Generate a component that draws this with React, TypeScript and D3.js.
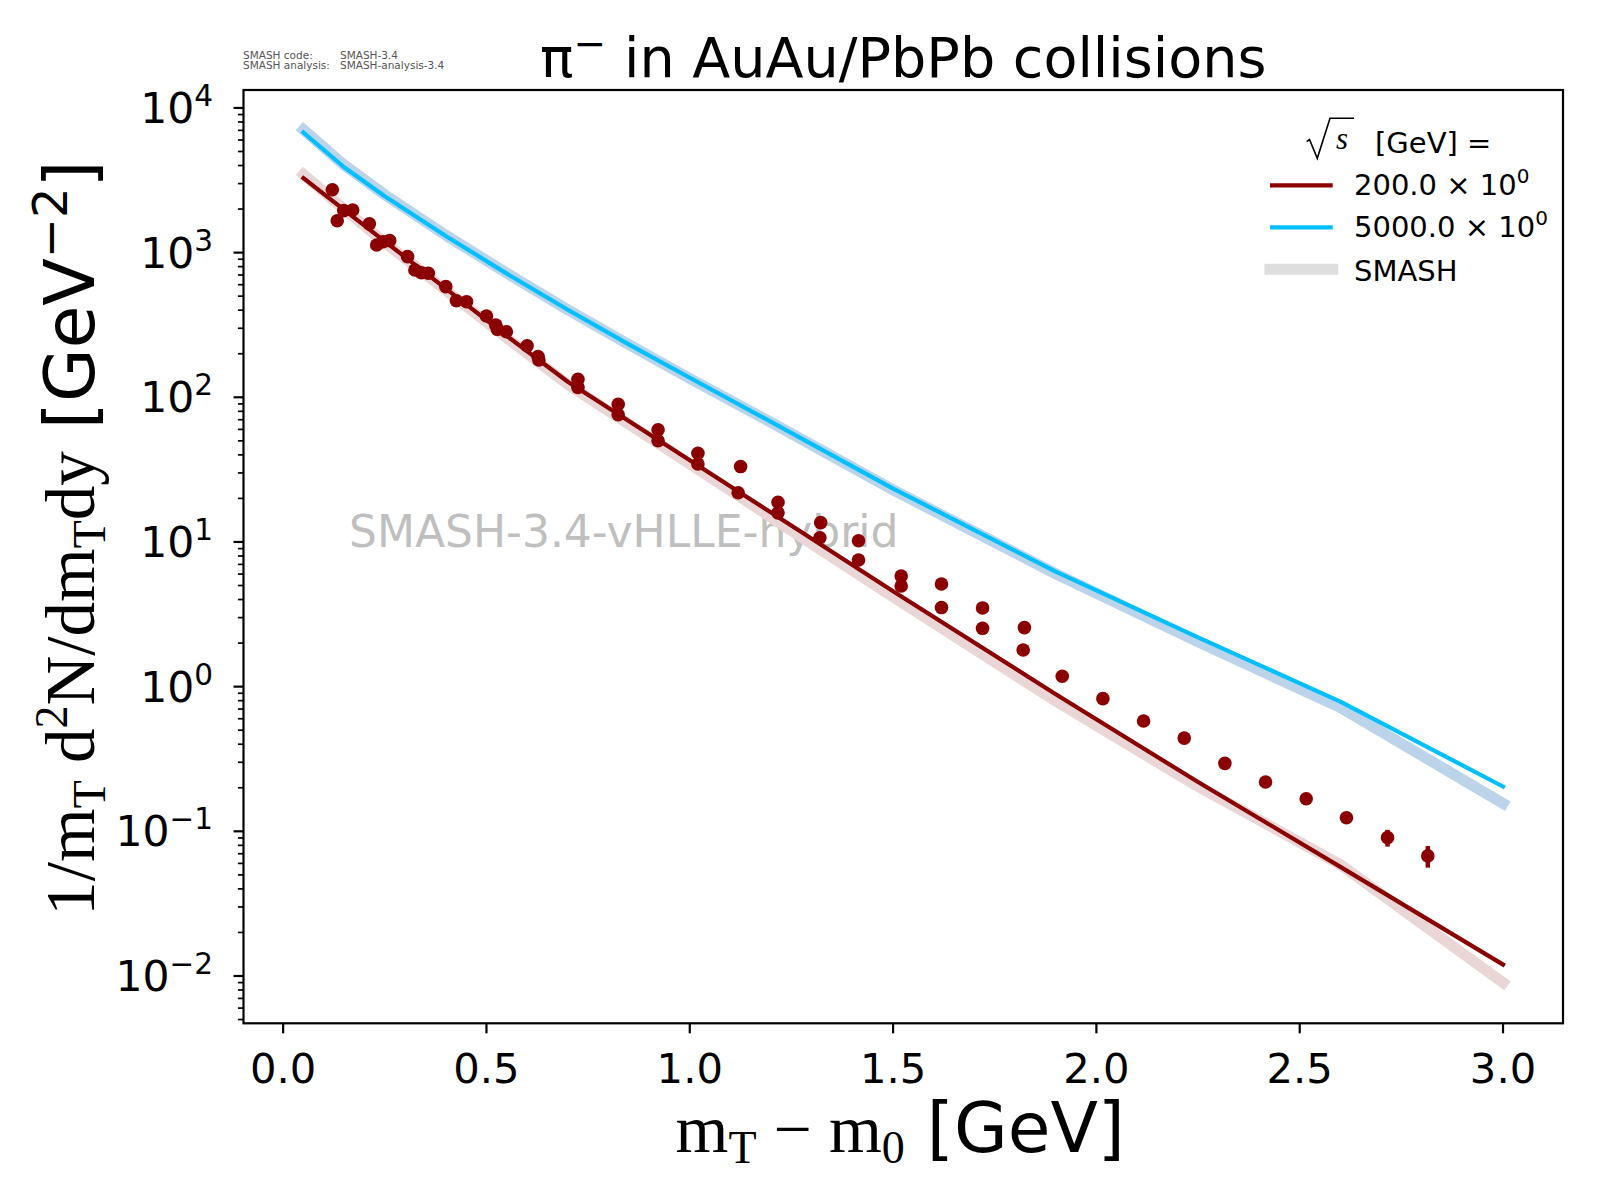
import * as d3 from 'd3';

const W = 1600;
const H = 1200;
const M = { left: 243.5, right: 1563, top: 90, bottom: 1023.3 };

const SANS = 'DejaVu Sans';
const SERIF = 'Liberation Serif';

// axis ranges (matplotlib-style 5% margins)
const X_DOMAIN = [-0.0975, 3.1475];
const Y_DOMAIN = [10 ** -2.327, 10 ** 4.124];
const X_TICKS = [0, 0.5, 1, 1.5, 2, 2.5, 3];
const Y_DECADES = [-2, -1, 0, 1, 2, 3, 4];

// SMASH-vHLLE curves, m_T - m_0 grid
const mtGrid = [0.05, 0.15, 0.25, 0.4, 0.55, 0.7, 0.85, 1.0, 1.2, 1.5, 1.9, 2.25, 2.6, 3.0];
const line200 = [3266, 1977, 1197, 564, 265.5, 128, 68.5, 36.7, 15.96, 4.57, 0.887, 0.219, 0.0568, 0.012];
const band200 = [3467, 1995, 1175, 549.5, 257, 123, 65.3, 34.7, 14.8, 4.17, 0.794, 0.204, 0.0589, 0.00899];
const line5000 = [6761, 3890, 2455, 1303, 716, 403, 232, 136.5, 67.6, 23.4, 6.24, 2.19, 0.787, 0.204];
const band5000 = [7079, 4030, 2510, 1318, 722, 403, 232, 135, 67.0, 22.9, 6.03, 2.04, 0.716, 0.156];

// experimental pi- points at 200 GeV
const expX = [
  0.121, 0.133, 0.149, 0.171, 0.212, 0.23, 0.246, 0.262, 0.306, 0.324, 0.34, 0.357, 0.4, 0.426, 0.451,
  0.5, 0.523, 0.527, 0.549, 0.6, 0.627, 0.629, 0.725, 0.725, 0.824, 0.824, 0.922, 0.922, 1.02, 1.02,
  1.125, 1.119, 1.217, 1.217, 1.322, 1.32, 1.415, 1.415, 1.52, 1.52, 1.619, 1.619, 1.72, 1.72, 1.823,
  1.82, 1.916, 2.016, 2.116, 2.216, 2.316, 2.416, 2.516, 2.615, 2.716, 2.815,
];
const expY = [
  2720, 1660, 1950, 1970, 1580, 1130, 1190, 1210, 938, 758, 726, 720, 582, 465, 458,
  365, 316, 295, 284, 227, 191, 181, 133, 117, 89.5, 75.7, 59.6, 50.1, 41.0, 34.6,
  33.2, 21.9, 18.8, 15.9, 13.6, 10.7, 10.2, 7.5, 5.82, 4.96, 5.12, 3.52, 3.5, 2.53, 2.56,
  1.79, 1.18, 0.826, 0.579, 0.441, 0.295, 0.219, 0.168, 0.124, 0.0904, 0.0676,
];
const expErr = expY.map((_, i) => (i === expY.length - 2 ? 0.012 : i === expY.length - 1 ? 0.0115 : 0));

const RED = '#8b0000';
const BLUE = '#00bfff';
const RED_BAND = '#ead6d7';
const BLUE_BAND = '#bcd4e9';
const GREY_BAND = '#dedede';

const legendItems = [
  { label: '200.0', color: RED, width: 4.2 },
  { label: '5000.0', color: BLUE, width: 4.2 },
];

export default function App() {
  const x = d3.scaleLinear().domain(X_DOMAIN).range([M.left, M.right]);
  const y = d3.scaleLog().domain(Y_DOMAIN).range([M.bottom, M.top]);

  const path = (vals: number[]) =>
    d3
      .line<number>()
      .x((_, i) => x(mtGrid[i]))
      .y((v) => y(v))(vals) ?? '';

  const minorTicks: number[] = [];
  for (let d = -3; d <= 4; d++) {
    for (let k = 2; k <= 9; k++) {
      const v = k * 10 ** d;
      if (v > Y_DOMAIN[0] && v < Y_DOMAIN[1]) minorTicks.push(v);
    }
  }

  const cx = (M.left + M.right) / 2;

  return (
    <svg
      width={W}
      height={H}
      style={{ position: 'absolute', left: 0, top: 0, background: '#fff' }}
      fontFamily={SANS}
    >
      <rect width={W} height={H} fill="#fff" />

      {/* version stamp */}
      <g fontSize={10.5} fill="#555">
        <text x={243} y={59}>SMASH code:</text>
        <text x={340} y={59}>SMASH-3.4</text>
        <text x={243} y={69}>SMASH analysis:</text>
        <text x={340} y={69}>SMASH-analysis-3.4</text>
      </g>

      {/* title */}
      <text x={cx} y={77} fontSize={55.6} textAnchor="middle" fill="#000">
        π<tspan dy={-20} fontSize={39}>−</tspan>
        <tspan dy={20}> in AuAu/PbPb collisions</tspan>
      </text>

      {/* watermark */}
      <text x={349} y={547} fontSize={44} fill="#bfbfbf">
        SMASH-3.4-vHLLE-hybrid
      </text>

      {/* SMASH bands */}
      <path d={path(band200)} fill="none" stroke={RED_BAND} strokeWidth={11} strokeLinecap="square" strokeLinejoin="round" />
      <path d={path(band5000)} fill="none" stroke={BLUE_BAND} strokeWidth={11} strokeLinecap="square" strokeLinejoin="round" />

      {/* lines */}
      <path d={path(line200)} fill="none" stroke={RED} strokeWidth={4.2} strokeLinecap="square" strokeLinejoin="round" />
      <path d={path(line5000)} fill="none" stroke={BLUE} strokeWidth={4.2} strokeLinecap="square" strokeLinejoin="round" />

      {/* data */}
      <g fill={RED} stroke={RED}>
        {expX.map((xv, i) =>
          expErr[i] > 0 ? (
            <line
              key={`e${i}`}
              x1={x(xv)}
              x2={x(xv)}
              y1={y(expY[i] - expErr[i])}
              y2={y(expY[i] + expErr[i])}
              strokeWidth={4.5}
            />
          ) : null,
        )}
        {expX.map((xv, i) => (
          <circle key={i} cx={x(xv)} cy={y(expY[i])} r={6.8} stroke="none" />
        ))}
      </g>

      {/* frame */}
      <rect
        x={M.left}
        y={M.top}
        width={M.right - M.left}
        height={M.bottom - M.top}
        fill="none"
        stroke="#000"
        strokeWidth={2.2}
      />

      {/* x ticks */}
      {X_TICKS.map((t) => (
        <g key={t}>
          <line x1={x(t)} x2={x(t)} y1={M.bottom} y2={M.bottom + 10} stroke="#000" strokeWidth={2.2} />
          <text x={x(t)} y={1083} fontSize={41.7} textAnchor="middle">
            {t.toFixed(1)}
          </text>
        </g>
      ))}

      {/* y ticks */}
      {minorTicks.map((v) => (
        <line key={v} x1={M.left - 5.6} x2={M.left} y1={y(v)} y2={y(v)} stroke="#000" strokeWidth={1.7} />
      ))}
      {Y_DECADES.map((d) => (
        <g key={d}>
          <line x1={M.left - 10} x2={M.left} y1={y(10 ** d)} y2={y(10 ** d)} stroke="#000" strokeWidth={2.2} />
          <text x={213} y={y(10 ** d) + 15} fontSize={42.5} textAnchor="end">
            10
            <tspan dy={-17} fontSize={29.5}>
              {d < 0 ? `−${-d}` : `${d}`}
            </tspan>
          </text>
        </g>
      ))}

      {/* x label */}
      <text x={cx - 3} y={1152} fontSize={68} textAnchor="middle">
        <tspan fontFamily={SERIF}>m</tspan>
        <tspan fontFamily={SERIF} fontSize={46} dy={11}>T</tspan>
        <tspan fontFamily={SERIF} dy={-11}> − m</tspan>
        <tspan fontFamily={SERIF} fontSize={46} dy={11}>0</tspan>
        <tspan dy={-11} fontSize={69.4}> [GeV]</tspan>
      </text>

      {/* y label */}
      <text transform={`translate(94, 538) rotate(-90)`} fontSize={69} textAnchor="middle">
        <tspan fontFamily={SERIF}>1/m</tspan>
        <tspan fontFamily={SERIF} fontSize={46} dy={11}>T</tspan>
        <tspan fontFamily={SERIF} dy={-11}> d</tspan>
        <tspan fontFamily={SERIF} fontSize={46} dy={-27}>2</tspan>
        <tspan fontFamily={SERIF} dy={27}>N/dm</tspan>
        <tspan fontFamily={SERIF} fontSize={46} dy={11}>T</tspan>
        <tspan fontFamily={SERIF} dy={-11}>dy</tspan>
        <tspan fontSize={69.4}> [GeV</tspan>
        <tspan fontSize={48} dy={-27}>−2</tspan>
        <tspan fontSize={69.4} dy={27}>]</tspan>
      </text>

      {/* legend */}
      <g>
        <path d="M1306.7,141.7 L1309.5,139.5 L1317.3,158.3 L1330,118.3 L1354,118.3" fill="none" stroke="#000" strokeWidth={1.6} />
        <text x={1336} y={149} fontFamily={SERIF} fontStyle="italic" fontSize={31}>s</text>
        <text x={1375} y={152.7} fontSize={29}>[GeV] =</text>
        {legendItems.map((it, i) => (
          <g key={it.label}>
            <line x1={1270} x2={1332.7} y1={185.3 + i * 42} y2={185.3 + i * 42} stroke={it.color} strokeWidth={it.width} />
            <text x={1354} y={195 + i * 42} fontSize={29}>
              {it.label} × 10
              <tspan dy={-12} fontSize={20}>0</tspan>
            </text>
          </g>
        ))}
        <line x1={1270} x2={1332.7} y1={269.3} y2={269.3} stroke={GREY_BAND} strokeWidth={11} strokeLinecap="square" />
        <text x={1354} y={280.7} fontSize={29}>SMASH</text>
      </g>
    </svg>
  );
}
